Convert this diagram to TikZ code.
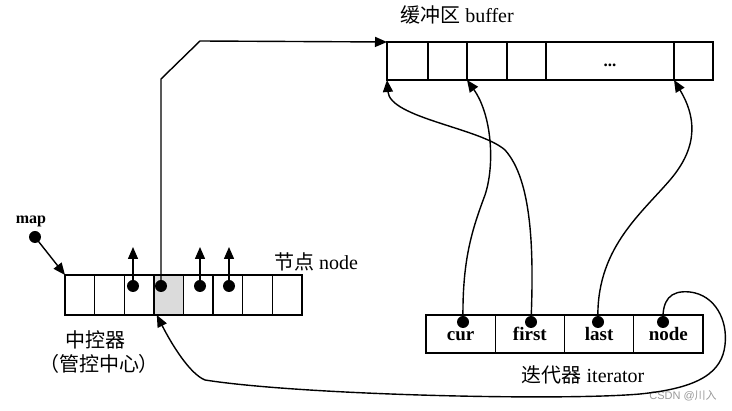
\documentclass[tikz,border=0pt]{standalone}
\usepackage{fontspec}
\setmainfont{Liberation Serif}
\newfontfamily\cjk{Noto Sans CJK SC}
\newfontfamily\wmfont{Liberation Sans}
\usetikzlibrary{positioning,arrows.meta,calc}

\begin{document}
\begin{tikzpicture}[x=1pt,y=-1pt,node distance=0pt,
 line width=1.4pt,font=\fontsize{20}{22}\selectfont,
 cell/.style={rectangle,draw,minimum width=29.6pt,minimum height=40pt,inner sep=0pt,outer sep=0pt},
 buf cell/.style={cell,minimum height=38pt},
 it cell/.style={cell,minimum width=69.25pt,minimum height=38pt,text height=16pt,text depth=2pt,font=\bfseries\fontsize{19}{21}\selectfont},
 dot/.style={circle,fill,inner sep=0pt,minimum size=12pt},
 ptr/.style={-{Triangle[length=12pt,width=10pt]}}]

  \useasboundingbox (0,0) rectangle (732,411);

  \node[cell] (m1) at (79.8,295) {};
  \node[cell] (m2) [right=of m1] {};
  \node[cell] (m3) [right=of m2] {};
  \node[cell,fill=black!14] (m4) [right=of m3] {};
  \node[cell] (m5) [right=of m4] {};
  \node[cell] (m6) [right=of m5] {};
  \node[cell] (m7) [right=of m6] {};
  \node[cell] (m8) [right=of m7] {};

  \node[buf cell,minimum width=41pt] (b1) at (407.5,61) {};
  \node[buf cell,minimum width=39pt] (b2) [right=of b1] {};
  \node[buf cell,minimum width=40pt] (b3) [right=of b2] {};
  \node[buf cell,minimum width=39pt] (b4) [right=of b3] {};
  \node[buf cell,minimum width=128pt,font=\bfseries\fontsize{17}{17}\selectfont,text height=12pt,text depth=0pt] (b5) [right=of b4] {...};
  \node[buf cell,minimum width=39pt] (b6) [right=of b5] {};

  \node[it cell] (cur) at (460.6,334) {cur};
  \node[it cell] (first) [right=of cur] {first};
  \node[it cell] (last) [right=of first] {last};
  \node[it cell] (nd) [right=of last] {node};

  \node[font=\bfseries\fontsize{16}{16}\selectfont] (map) at (31,221) {map};
  \node[dot] (mapdot) at (35,237) {};
  \node (nodelbl) at (316,262) {{\cjk 节点} node};
  \node (ctrl) at (95,340) {\cjk 中控器};
  \node (ctrl2) at (99,364) {\cjk （管控中心）};
  \node (buflbl) at (457,15) {{\cjk 缓冲区} buffer};
  \node (itlbl) at (583,375) {{\cjk 迭代器} iterator};
  \node[text=black!40,font=\wmfont\fontsize{11}{11}\selectfont] (wm) at (683,396) {CSDN @{\cjk 川入}};

  \node[dot] (d3) at (133,286) {};
  \node[dot] (d4) at (161,286) {};
  \node[dot] (d6) at (200,286) {};
  \node[dot] (d7) at (229,286) {};
  \coordinate (t3) at (133,247);
  \coordinate (t6) at (200,247);
  \coordinate (t7) at (229,247);

  \node[dot] (curdot) at (463,322) {};
  \node[dot] (firstdot) at (531,322) {};
  \node[dot] (lastdot) at (598,322) {};
  \node[dot] (nddot) at (663,322) {};

  \draw[ptr] (mapdot.center) -- (m1.north west);
  \draw[ptr] (d3.center) -- (t3);
  \draw[ptr] (d6.center) -- (t6);
  \draw[ptr] (d7.center) -- (t7);
  \draw[ptr] (d4.center) -- (161,79) -- (200,41) -- (b1.north west);

  \draw[ptr] (curdot.center) .. controls (462,260) and (472,230) .. (485,195)
     .. controls (495,165) and (492,115) .. (b3.south west);
  \draw[ptr] (firstdot.center) .. controls (534,250) and (532,180) .. (505,150)
     .. controls (480,128) and (390,118) .. (b1.south west);
  \draw[ptr] (lastdot.center) .. controls (595,250) and (640,215) .. (670,180)
     .. controls (700,145) and (695,115) .. (b6.south west);
  \draw[ptr] (nddot.center) .. controls (662,300) and (670,290) .. (690,292)
     .. controls (715,295) and (728,320) .. (725,345)
     .. controls (722,372) and (700,388) .. (640,394)
     .. controls (560,401) and (300,395) .. (205,380)
     .. controls (190,374) and (172,345) .. ($(m4.south west)+(3,0)$);
\end{tikzpicture}
\end{document}
